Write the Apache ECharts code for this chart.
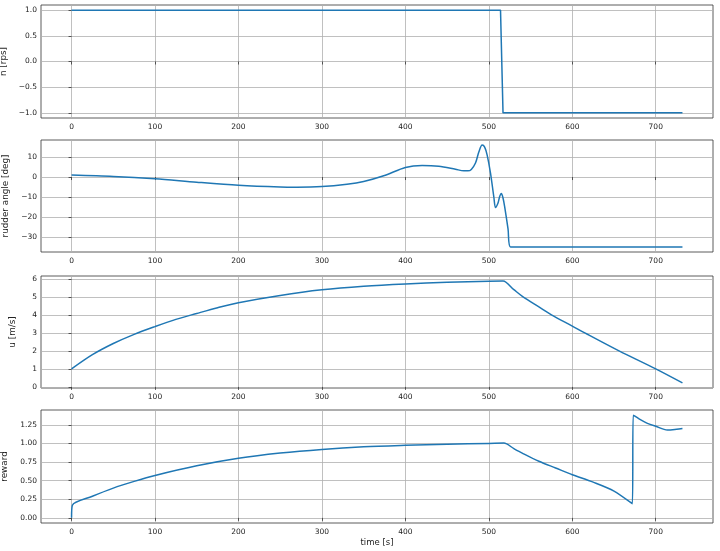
<!DOCTYPE html>
<html>
<head>
<meta charset="utf-8">
<script src="https://cdn.jsdelivr.net/npm/echarts@6/dist/echarts.min.js"></script>
<style>html,body{margin:0;padding:0;background:#fff}#c{width:720px;height:551px}</style>
</head>
<body>
<div id="c"></div>
<script>
// ---- data ----
const timeTicks = [0, 100, 200, 300, 400, 500, 600, 700];
const nTicks = [-1, -0.5, 0, 0.5, 1];
const rudderTicks = [-30, -20, -10, 0, 10];
const uTicks = [0, 1, 2, 3, 4, 5, 6];
const rewardTicks = [0, 0.25, 0.5, 0.75, 1, 1.25];

const nTime = [0, 514, 517, 732];
const nVals = [1, 1, -1, -1];

const rudderTime = [0, 50, 100, 150, 200, 250, 270, 300, 330, 350, 375, 400, 420, 440, 460, 470, 475, 479, 484, 488, 492, 495, 498, 502, 506, 508, 511, 513, 515, 517, 519, 523, 526, 732];
const rudderVals = [1.0, 0.3, -0.9, -2.6, -4.1, -5.0, -5.1, -4.8, -3.6, -2.2, 0.8, 4.8, 5.8, 5.4, 3.9, 3.1, 3.1, 3.8, 7.0, 12.5, 16.0, 15.0, 11.0, 2.0, -10.0, -15.3, -13.0, -9.8, -8.3, -10.5, -15.0, -26.0, -35, -35];

const uTime = [0, 25, 50, 75, 100, 125, 150, 175, 200, 250, 300, 350, 400, 450, 500, 517, 530, 541, 560, 575, 600, 615, 656, 700, 732];
const uVals = [1.0, 1.79, 2.41, 2.92, 3.35, 3.75, 4.08, 4.40, 4.68, 5.08, 5.39, 5.59, 5.72, 5.81, 5.87, 5.88, 5.40, 5.0, 4.44, 4.0, 3.38, 3.0, 2.0, 1.0, 0.22];

const rewardTime = [0, 1, 25, 50, 75, 100, 150, 200, 250, 300, 350, 400, 450, 500, 518, 530, 540, 560, 580, 600, 625, 650, 672, 673, 680, 690, 700, 714, 725, 732];
const rewardVals = [0, 0.17, 0.29, 0.40, 0.49, 0.57, 0.70, 0.80, 0.87, 0.92, 0.955, 0.975, 0.99, 1.0, 1.005, 0.93, 0.87, 0.76, 0.67, 0.58, 0.48, 0.36, 0.19, 1.38, 1.33, 1.27, 1.23, 1.18, 1.19, 1.20];

const panels = [
  {name: 'n [rps]', t: nTime, v: nVals, ticks: nTicks, min: -1.1, max: 1.1, dec: 1, top: 5, h: 113, gap: 29, smooth: false},
  {name: 'rudder angle [deg]', t: rudderTime, v: rudderVals, ticks: rudderTicks, min: -37.55, max: 18.55, dec: 0, top: 140, h: 112, gap: 25, smooth: 0.3},
  {name: 'u [m/s]', t: uTime, v: uVals, ticks: uTicks, min: -0.06, max: 6.16, dec: 0, top: 276, h: 112, gap: 24, smooth: 0.3},
  {name: 'reward', t: rewardTime, v: rewardVals, ticks: rewardTicks, min: -0.069, max: 1.449, dec: 2, top: 410, h: 113, gap: 28, smooth: 0.3}
];

const FONT = 'DejaVu Sans';
const fmtNum = (val, dec) => {
  const s = Math.abs(val).toFixed(dec);
  return (val < -1e-9 ? '\u2212' : '') + s;
};

const grid = [], xAxis = [], yAxis = [], series = [];
panels.forEach((p, i) => {
  grid.push({left: 41, right: 7, top: p.top, height: p.h, show: true, borderColor: '#333', borderWidth: 0.8, backgroundColor: 'transparent', containLabel: false, outerBoundsMode: 'none'});
  xAxis.push({
    type: 'value', gridIndex: i, min: -36.6, max: 768.6,
    name: i === 3 ? 'time [s]' : '', nameLocation: 'middle', nameGap: 15,
    nameTextStyle: {fontFamily: FONT, fontSize: 8.5, color: '#222'},
    axisLine: {show: false},
    axisTick: {show: true, length: 3, lineStyle: {color: '#333', width: 0.8}, customValues: timeTicks},
    axisLabel: {fontFamily: FONT, fontSize: 7.5, color: '#222', margin: 5, customValues: timeTicks, formatter: v => fmtNum(v, 0)},
    splitLine: {show: true, lineStyle: {color: '#b0b0b0', width: 0.8}}
  });
  yAxis.push({
    type: 'value', gridIndex: i, min: p.min, max: p.max,
    name: p.name, nameLocation: 'middle', nameGap: p.gap, nameRotate: 90,
    nameTextStyle: {fontFamily: FONT, fontSize: 8.8, color: '#222'},
    axisLine: {show: false},
    axisTick: {show: true, length: 3, lineStyle: {color: '#333', width: 0.8}, customValues: p.ticks},
    axisLabel: {fontFamily: FONT, fontSize: 7.5, color: '#222', margin: 4, customValues: p.ticks, formatter: v => fmtNum(v, p.dec)},
    splitLine: {show: true, lineStyle: {color: '#b0b0b0', width: 0.8}}
  });
  series.push({
    type: 'line', xAxisIndex: i, yAxisIndex: i,
    data: p.t.map((x, k) => [x, p.v[k]]),
    showSymbol: false, symbol: 'none', smooth: p.smooth,
    lineStyle: {color: '#1f77b4', width: 1.5}, itemStyle: {color: '#1f77b4'},
    animation: false, clip: true
  });
});

const chart = echarts.init(document.getElementById('c'), null, {renderer: 'canvas'});
chart.setOption({animation: false, backgroundColor: '#fff', grid, xAxis, yAxis, series});
</script>
</body>
</html>
